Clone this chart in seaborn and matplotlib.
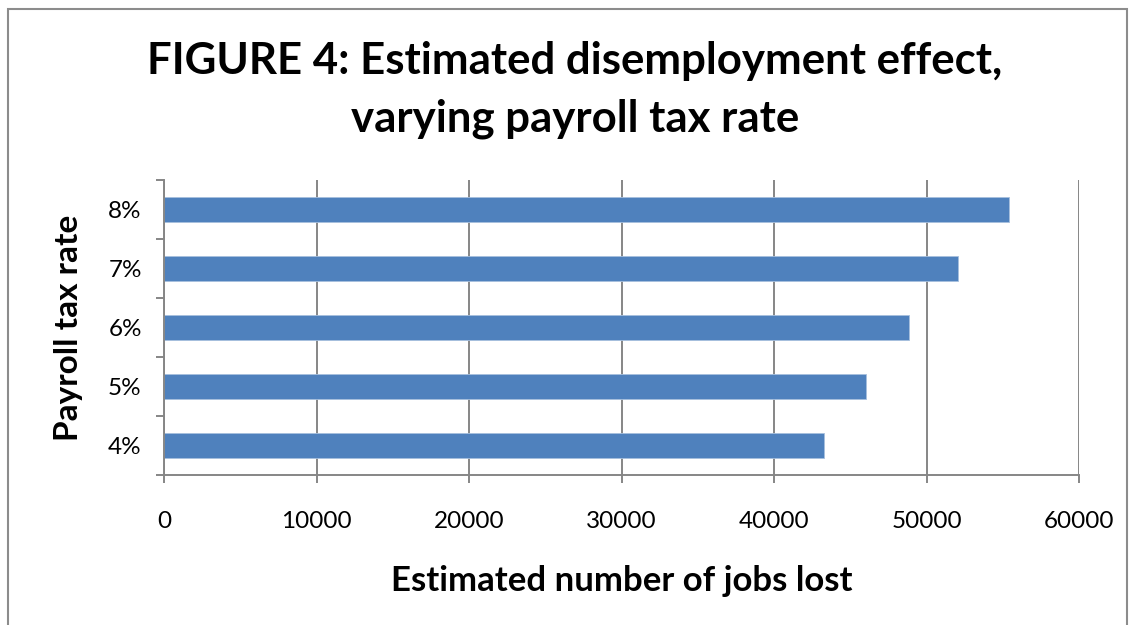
import matplotlib
matplotlib.use("Agg")
import matplotlib.pyplot as plt
import matplotlib.patches as mpatches
import numpy as np
import pandas as pd
import seaborn as sns

# Payroll tax rates and estimated jobs lost
rates = ["4%", "5%", "6%", "7%", "8%"]
jobs_lost = [43300, 46000, 48850, 52050, 55400]
x_ticks = [0, 10000, 20000, 30000, 40000, 50000, 60000]

df = pd.DataFrame({"rate": rates, "jobs": jobs_lost})

sns.set_theme(style="white")
plt.rcParams["font.family"] = ["Lato", "DejaVu Sans"]
plt.rcParams["text.color"] = "black"
plt.rcParams["axes.labelcolor"] = "black"
plt.rcParams["xtick.color"] = "black"
plt.rcParams["ytick.color"] = "black"

fig = plt.figure(figsize=(11.3, 6.25), dpi=100)
ax = fig.add_axes([164 / 1130, 1 - 475 / 625, (1079 - 164) / 1130, (475 - 180) / 625])

sns.barplot(data=df, x="jobs", y="rate", order=rates[::-1], orient="h",
            color="#4F81BD", saturation=1, width=0.41, ax=ax,
            edgecolor="#A7C0DE", linewidth=0.6)

grid_c = "#868686"
ax.set_xlim(0, 60000)
ax.set_ylim(len(rates) - 0.5, -0.5)
ax.set_xticks(x_ticks)
ax.set_xticklabels([str(t) for t in x_ticks], fontsize=17.5)
ax.xaxis.grid(True, color=grid_c, linewidth=1.4)
ax.yaxis.grid(False)
ax.set_axisbelow(True)

# category boundary ticks on the y axis
ax.set_yticks(np.arange(-0.5, len(rates), 1.0), minor=True)
ax.tick_params(axis="y", which="major", length=0, labelsize=17.5, pad=16)
ax.tick_params(axis="y", which="minor", length=6, width=1.4, color=grid_c, direction="out", left=True)
ax.tick_params(axis="x", which="major", length=6, width=1.4, color=grid_c, direction="out",
               bottom=True, pad=20, labelcolor="black")

for side in ["top", "right"]:
    ax.spines[side].set_visible(False)
for side in ["left", "bottom"]:
    ax.spines[side].set_color(grid_c)
    ax.spines[side].set_linewidth(1.4)

ax.set_xlabel("Estimated number of jobs lost", fontsize=25, fontweight="bold", labelpad=24)
ax.set_ylabel("Payroll tax rate", fontsize=24, fontweight="bold", labelpad=18)

fig.text(575 / 1130, 1 - 90 / 625, "FIGURE 4: Estimated disemployment effect,\nvarying payroll tax rate",
         ha="center", va="center", fontsize=31.5, fontweight="bold", linespacing=1.55)

# outer frame
frame = mpatches.Rectangle((8 / 1130, -0.05), 1119 / 1130, 1 - 9 / 625 + 0.05,
                           transform=fig.transFigure, fill=False,
                           edgecolor="#8C8C8C", linewidth=1.5)
fig.add_artist(frame)

fig.savefig("out.png", dpi=100, facecolor="white")
